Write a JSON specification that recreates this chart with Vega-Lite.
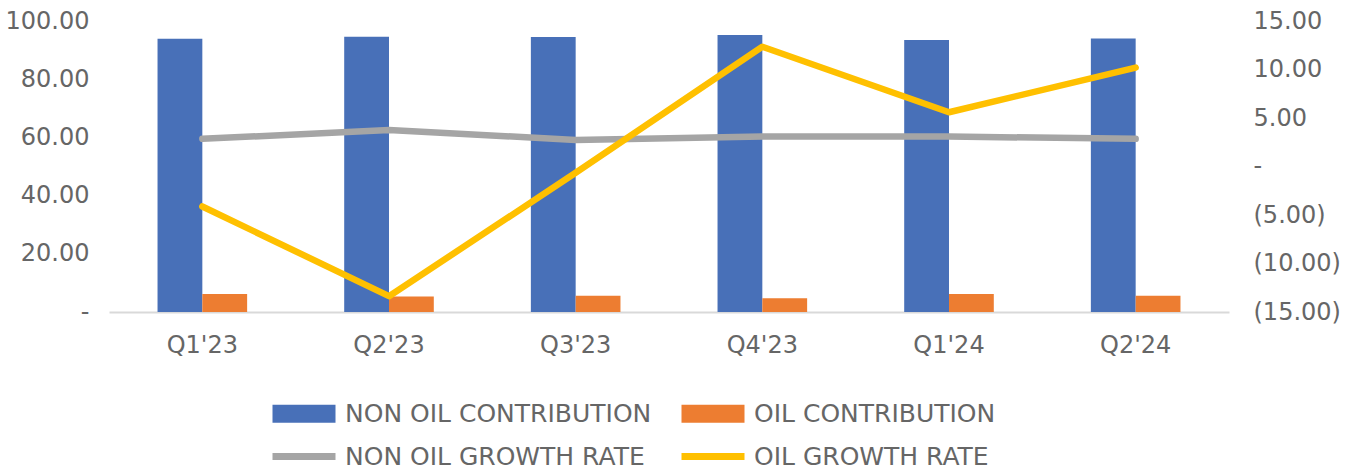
{
  "$schema": "https://vega.github.io/schema/vega-lite/v6.json",
  "width": 1120,
  "height": 291,
  "autosize": {"type": "none"},
  "padding": {"left": 109, "top": 21, "right": 128, "bottom": 159},
  "background": "white",
  "config": {
    "view": {"stroke": null},
    "font": "DejaVu Sans",
    "axis": {"grid": false, "ticks": false, "labelColor": "#666666", "labelFont": "DejaVu Sans", "labelFontSize": 24, "title": null}
  },
  "datasets": {
    "contrib": [
      {"quarter": "Q1'23", "series": "NON OIL CONTRIBUTION", "value": 93.9},
      {"quarter": "Q1'23", "series": "OIL CONTRIBUTION", "value": 6.2},
      {"quarter": "Q2'23", "series": "NON OIL CONTRIBUTION", "value": 94.6},
      {"quarter": "Q2'23", "series": "OIL CONTRIBUTION", "value": 5.3},
      {"quarter": "Q3'23", "series": "NON OIL CONTRIBUTION", "value": 94.5},
      {"quarter": "Q3'23", "series": "OIL CONTRIBUTION", "value": 5.6},
      {"quarter": "Q4'23", "series": "NON OIL CONTRIBUTION", "value": 95.2},
      {"quarter": "Q4'23", "series": "OIL CONTRIBUTION", "value": 4.7},
      {"quarter": "Q1'24", "series": "NON OIL CONTRIBUTION", "value": 93.5},
      {"quarter": "Q1'24", "series": "OIL CONTRIBUTION", "value": 6.2},
      {"quarter": "Q2'24", "series": "NON OIL CONTRIBUTION", "value": 94.0},
      {"quarter": "Q2'24", "series": "OIL CONTRIBUTION", "value": 5.6}
    ],
    "growth": [
      {"quarter": "Q1'23", "series": "NON OIL GROWTH RATE", "value": 2.85},
      {"quarter": "Q2'23", "series": "NON OIL GROWTH RATE", "value": 3.77},
      {"quarter": "Q3'23", "series": "NON OIL GROWTH RATE", "value": 2.74},
      {"quarter": "Q4'23", "series": "NON OIL GROWTH RATE", "value": 3.09},
      {"quarter": "Q1'24", "series": "NON OIL GROWTH RATE", "value": 3.09},
      {"quarter": "Q2'24", "series": "NON OIL GROWTH RATE", "value": 2.85},
      {"quarter": "Q1'23", "series": "OIL GROWTH RATE", "value": -4.12},
      {"quarter": "Q2'23", "series": "OIL GROWTH RATE", "value": -13.37},
      {"quarter": "Q3'23", "series": "OIL GROWTH RATE", "value": -0.65},
      {"quarter": "Q4'23", "series": "OIL GROWTH RATE", "value": 12.35},
      {"quarter": "Q1'24", "series": "OIL GROWTH RATE", "value": 5.59},
      {"quarter": "Q2'24", "series": "OIL GROWTH RATE", "value": 10.2}
    ]
  },
  "layer": [
    {
      "data": {"name": "contrib"},
      "mark": {"type": "bar"},
      "encoding": {
        "x": {
          "field": "quarter", "type": "nominal",
          "sort": ["Q1'23", "Q2'23", "Q3'23", "Q4'23", "Q1'24", "Q2'24"],
          "scale": {"paddingInner": 0.52, "paddingOuter": 0.26},
          "axis": {"labelAngle": 0, "domainColor": "#d9d9d9", "domainWidth": 2, "labelPadding": 21}
        },
        "xOffset": {"field": "series", "type": "nominal", "sort": ["NON OIL CONTRIBUTION", "OIL CONTRIBUTION"]},
        "y": {
          "field": "value", "type": "quantitative",
          "scale": {"domain": [0, 100]},
          "axis": {"values": [0, 20, 40, 60, 80, 100], "domain": false, "labelPadding": 20,
                   "labelExpr": "datum.value == 0 ? '-' : format(datum.value, '.2f')"}
        },
        "color": {
          "field": "series", "type": "nominal", "sort": null,
          "scale": {
            "domain": ["NON OIL CONTRIBUTION", "OIL CONTRIBUTION", "NON OIL GROWTH RATE", "OIL GROWTH RATE"],
            "range": ["#4870B8", "#ED7D31", "#A5A5A5", "#FFC000"]
          },
          "legend": {
            "orient": "none", "legendX": 160, "legendY": 380, "columns": 2, "direction": "horizontal", "title": null,
            "values": ["NON OIL CONTRIBUTION", "OIL CONTRIBUTION", "NON OIL GROWTH RATE", "OIL GROWTH RATE"],
            "labelFontSize": 25, "labelFont": "DejaVu Sans", "labelColor": "#666666", "labelLimit": 500,
            "symbolSize": 324, "labelOffset": 51, "columnPadding": 26, "rowPadding": 17,
            "symbolStrokeWidth": 0,
            "encode": {
              "symbols": {
                "update": {
                  "shape": {"signal": "indexof(datum.label, 'GROWTH') >= 0 ? 'M-1,-0.38H6V0.38H-1Z' : 'M-1,-1H6V1H-1Z'"},
                  "fill": {"scale": "color", "field": "value"},
                  "stroke": {"value": "transparent"},
                  "opacity": {"value": 1}
                }
              }
            }
          }
        }
      }
    },
    {
      "data": {"name": "growth"},
      "mark": {"type": "line", "strokeWidth": 6.5, "strokeCap": "round", "strokeJoin": "round"},
      "encoding": {
        "x": {"field": "quarter", "type": "nominal", "sort": ["Q1'23", "Q2'23", "Q3'23", "Q4'23", "Q1'24", "Q2'24"]},
        "y": {
          "field": "value", "type": "quantitative",
          "scale": {"domain": [-15, 15]},
          "axis": {"orient": "right", "values": [-15, -10, -5, 0, 5, 10, 15], "domain": false, "labelPadding": 24,
                   "labelExpr": "datum.value == 0 ? '-' : (datum.value < 0 ? '(' + format(-datum.value, '.2f') + ')' : format(datum.value, '.2f'))"}
        },
        "color": {
          "field": "series", "type": "nominal", "sort": null,
          "scale": {
            "domain": ["NON OIL CONTRIBUTION", "OIL CONTRIBUTION", "NON OIL GROWTH RATE", "OIL GROWTH RATE"],
            "range": ["#4870B8", "#ED7D31", "#A5A5A5", "#FFC000"]
          }
        }
      }
    }
  ],
  "resolve": {"scale": {"y": "independent"}}
}
